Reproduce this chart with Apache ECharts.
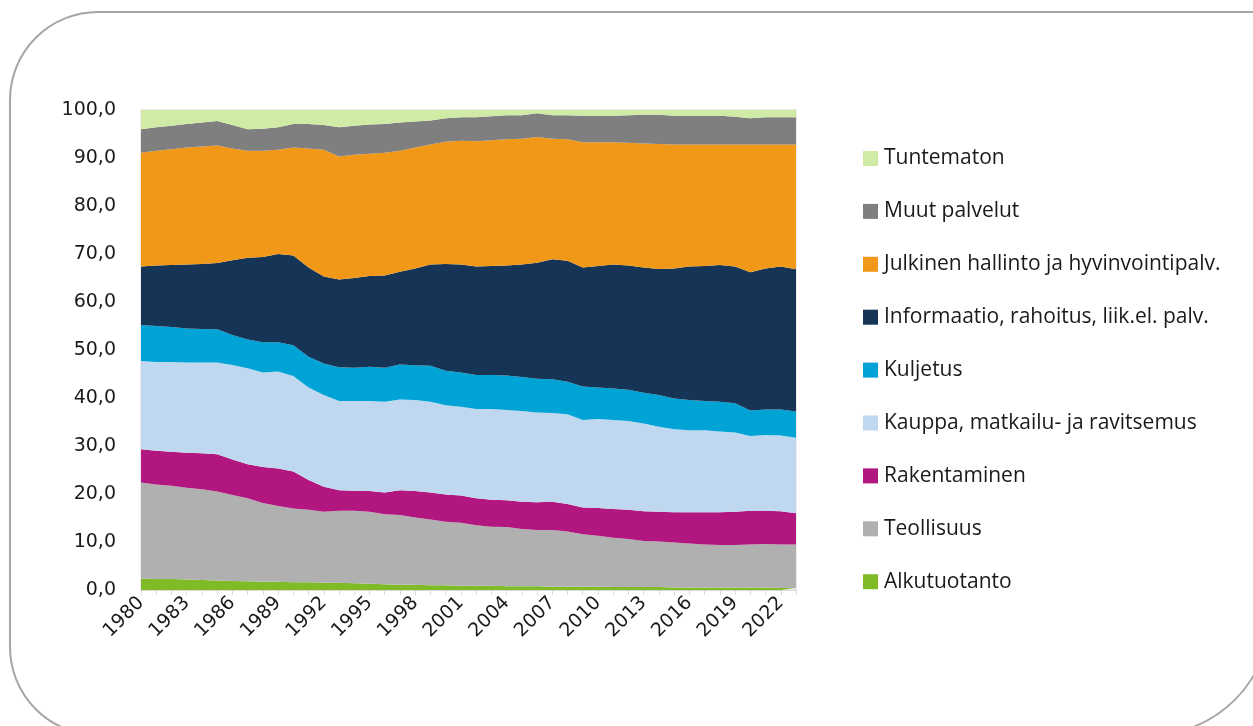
<!DOCTYPE html>
<html>
<head>
<meta charset="utf-8">
<script src="https://cdn.jsdelivr.net/npm/echarts@6/dist/echarts.min.js"></script>
<style>
  html, body { margin: 0; padding: 0; background: #ffffff; }
  #chart { width: 1253px; height: 726px; }
</style>
</head>
<body>
<div id="chart"></div>
<script>
const years = ['1980','1981','1982','1983','1984','1985','1986','1987','1988','1989','1990','1991','1992','1993','1994','1995','1996','1997','1998','1999','2000','2001','2002','2003','2004','2005','2006','2007','2008','2009','2010','2011','2012','2013','2014','2015','2016','2017','2018','2019','2020','2021','2022','2023'];

const alkutuotanto = [2.4,2.3,2.3,2.2,2.1,2.0,1.9,1.8,1.7,1.7,1.6,1.6,1.5,1.5,1.4,1.3,1.2,1.1,1.1,1.0,1.0,0.9,0.9,0.9,0.8,0.8,0.8,0.7,0.7,0.7,0.7,0.6,0.6,0.6,0.6,0.5,0.5,0.5,0.5,0.5,0.5,0.5,0.4,0.4];
const teollisuus = [20.0,19.7,19.4,19.1,18.9,18.5,17.9,17.3,16.4,15.8,15.4,15.1,14.8,15.0,15.1,15.0,14.6,14.5,14.0,13.7,13.2,13.1,12.6,12.3,12.3,11.9,11.7,11.8,11.5,10.9,10.6,10.3,10.0,9.6,9.5,9.4,9.2,9.0,8.9,8.9,9.0,9.1,9.1,9.1];
const rakentaminen = [6.9,7.0,7.1,7.3,7.5,7.8,7.4,7.1,7.5,7.8,7.7,6.2,5.2,4.3,4.2,4.3,4.5,5.2,5.5,5.6,5.7,5.7,5.6,5.6,5.6,5.7,5.8,5.9,5.7,5.6,5.8,6.0,6.1,6.2,6.2,6.3,6.5,6.7,6.8,6.9,7.0,6.9,6.9,6.5];
const kauppa = [18.4,18.5,18.7,18.8,18.9,19.1,19.7,20.0,19.7,20.2,19.9,19.3,19.1,18.6,18.7,18.8,18.9,18.9,19.0,18.9,18.6,18.5,18.6,18.9,18.8,18.9,18.7,18.5,18.7,18.2,18.5,18.5,18.5,18.3,17.7,17.3,17.1,17.1,16.8,16.5,15.6,15.8,15.8,15.7];
const kuljetus = [7.5,7.5,7.3,7.1,7.0,6.9,6.2,6.0,6.3,6.1,6.4,6.4,6.6,7.0,6.9,7.1,7.1,7.3,7.2,7.5,7.2,7.1,7.1,7.1,7.2,7.1,7.0,7.0,6.8,7.0,6.6,6.6,6.5,6.4,6.6,6.4,6.3,6.1,6.2,6.1,5.3,5.3,5.4,5.5];
const informaatio = [12.2,12.6,12.9,13.3,13.5,13.8,15.6,17.0,17.8,18.4,18.7,18.6,18.1,18.3,18.7,18.9,19.2,19.3,20.2,21.1,22.2,22.5,22.6,22.7,22.9,23.4,24.2,25.0,25.2,24.8,25.3,25.8,25.9,26.1,26.3,27.1,27.8,28.1,28.5,28.5,28.8,29.4,29.8,29.6];
const julkinen = [23.7,23.9,24.1,24.4,24.5,24.5,23.3,22.3,22.1,21.7,22.5,24.8,26.4,25.6,25.7,25.5,25.6,25.2,25.2,25.0,25.5,25.8,26.1,26.2,26.3,26.2,26.2,25.1,25.3,26.1,25.8,25.5,25.6,25.8,26.0,25.8,25.4,25.3,25.1,25.4,26.6,25.8,25.4,26.0];
const muut = [4.9,4.9,4.9,4.9,5.0,5.1,4.9,4.5,4.6,4.7,4.9,5.1,5.2,6.1,6.0,6.1,6.0,5.9,5.4,5.0,4.9,4.9,5.0,5.0,5.0,4.9,4.9,4.9,5.0,5.5,5.5,5.5,5.7,6.0,6.1,6.0,6.0,6.0,6.0,5.8,5.5,5.7,5.7,5.7];
const tuntematon = [4.0,3.6,3.3,2.9,2.6,2.3,3.1,4.0,3.9,3.6,2.9,2.9,3.1,3.6,3.3,3.1,2.9,2.6,2.4,2.2,1.7,1.5,1.5,1.4,1.3,1.1,0.7,1.1,1.1,1.2,1.2,1.2,1.1,1.0,1.1,1.2,1.2,1.2,1.2,1.4,1.7,1.5,1.5,1.5];

const seriesNames = ['Alkutuotanto','Teollisuus','Rakentaminen','Kauppa, matkailu- ja ravitsemus','Kuljetus','Informaatio, rahoitus, liik.el. palv.','Julkinen hallinto ja hyvinvointipalv.','Muut palvelut','Tuntematon'];
const seriesData = [alkutuotanto, teollisuus, rakentaminen, kauppa, kuljetus, informaatio, julkinen, muut, tuntematon];
const seriesColors = ['#7fba27','#b0b0b0','#b2177f','#bfd7ef','#00a3d6','#163556','#f29818','#7f7f7f','#d0eba6'];

const chart = echarts.init(document.getElementById('chart'), null, { renderer: 'canvas' });

const series = seriesNames.map((name, i) => ({
  name: name,
  type: 'line',
  stack: 'total',
  data: seriesData[i],
  showSymbol: false,
  symbol: 'none',
  lineStyle: { width: 0 },
  itemStyle: { color: seriesColors[i] },
  areaStyle: { color: seriesColors[i], opacity: 1 },
  emphasis: { disabled: true },
  animation: false
}));

const axisFont = 'DejaVu Sans, Open Sans, sans-serif';
const legendFont = 'Open Sans, Noto Sans, sans-serif';

chart.setOption({
  animation: false,
  backgroundColor: '#ffffff',
  graphic: [{
    type: 'rect',
    shape: { x: 10, y: 12, width: 1260, height: 723, r: [88, 0, 120, 88] },
    style: { fill: 'none', stroke: '#a6a6a6', lineWidth: 2 },
    silent: true,
    z: -10
  }],
  grid: {
    left: 141, top: 110, width: 655, height: 480,
    show: true, borderColor: '#d9d9d9', borderWidth: 1,
    backgroundColor: 'transparent'
  },
  legend: {
    orient: 'vertical',
    left: 858,
    top: 143,
    data: seriesNames.slice().reverse(),
    icon: 'rect',
    itemWidth: 15,
    itemHeight: 15,
    itemGap: 31.9,
    textStyle: { fontFamily: legendFont, fontSize: 21, color: '#1a1a1a', lineHeight: 20, padding: [0, 0, 0, 1] },
    selectedMode: false
  },
  xAxis: {
    type: 'category',
    data: years,
    boundaryGap: false,
    axisLine: { show: true, lineStyle: { color: '#d9d9d9', width: 1 } },
    axisTick: { show: true, interval: 0, length: 5, lineStyle: { color: '#d9d9d9' } },
    axisLabel: {
      interval: 2,
      rotate: 45,
      margin: 10,
      fontFamily: axisFont,
      fontSize: 19,
      color: '#1a1a1a'
    },
    splitLine: { show: false }
  },
  yAxis: {
    type: 'value',
    min: 0,
    max: 100,
    interval: 10,
    axisLine: { show: false },
    axisTick: { show: false },
    splitLine: { show: false },
    axisLabel: {
      margin: 25,
      fontFamily: axisFont,
      fontSize: 19,
      color: '#1a1a1a',
      formatter: v => v.toFixed(1).replace('.', ',')
    }
  },
  series: series
});
</script>
</body>
</html>
